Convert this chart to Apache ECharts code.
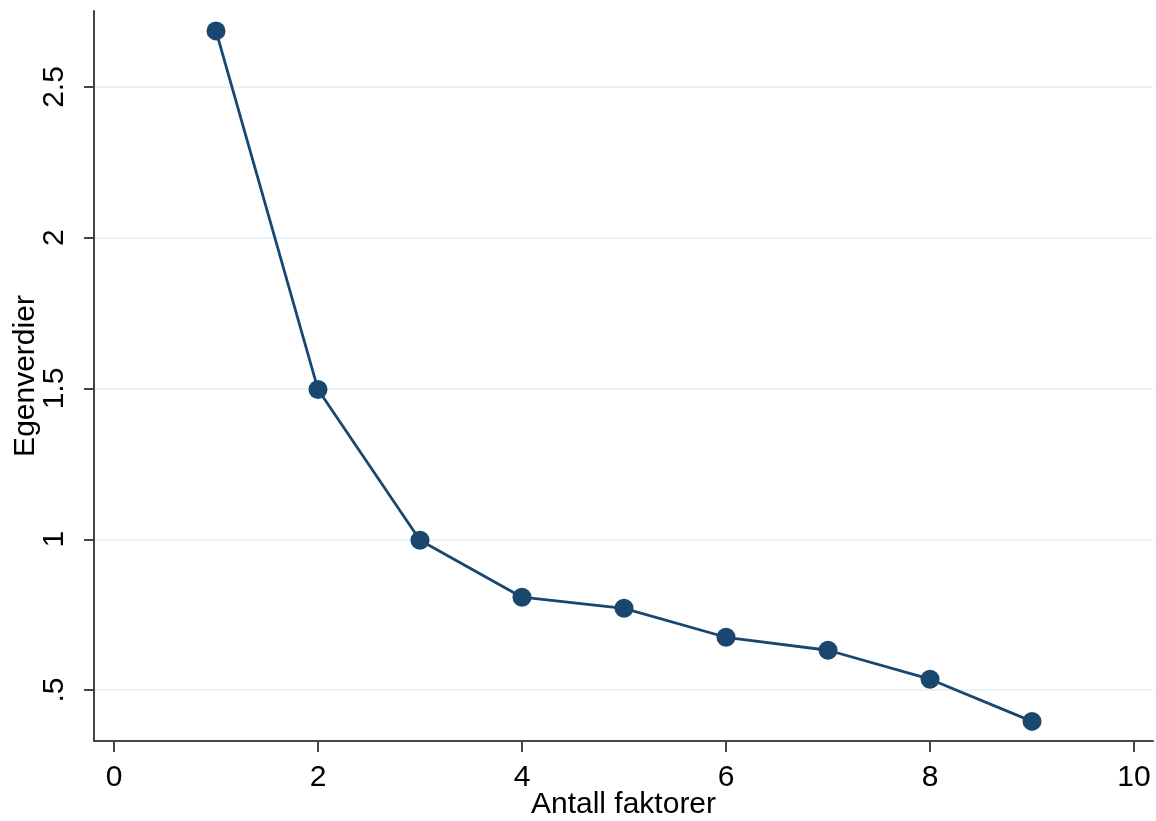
<!DOCTYPE html>
<html>
<head>
<meta charset="utf-8">
<script src="https://cdn.jsdelivr.net/npm/echarts@6/dist/echarts.min.js"></script>
<style>
  html, body { margin: 0; padding: 0; background: #fff; }
  #chart { width: 1156px; height: 821px; }
</style>
</head>
<body>
<div id="chart"></div>
<script>
// scree plot: eigenvalues per factor
const factors = [1, 2, 3, 4, 5, 6, 7, 8, 9];
const eigenvalues = [2.686, 1.497, 0.997, 0.808, 0.771, 0.675, 0.632, 0.536, 0.396];
const xTicks = [0, 2, 4, 6, 8, 10];
const yTicks = [0.5, 1, 1.5, 2, 2.5];

const font = "'Liberation Sans', Arial, sans-serif";
const axisColor = '#444444';

const chart = echarts.init(document.getElementById('chart'));
chart.setOption({
  backgroundColor: '#ffffff',
  animation: false,
  grid: { left: 94, right: 3, top: 11, bottom: 80, containLabel: false, outerBoundsMode: 'none' },
  xAxis: {
    type: 'value',
    min: -0.196,
    max: 10.186,
    name: 'Antall faktorer',
    nameLocation: 'middle',
    nameGap: 49,
    nameMoveOverlap: false,
    nameTextStyle: { fontFamily: font, fontSize: 30, color: '#000' },
    axisLine: { onZero: false, lineStyle: { color: axisColor, width: 2 } },
    axisTick: { customValues: xTicks, length: 11, lineStyle: { color: axisColor, width: 2 } },
    axisLabel: {
      customValues: xTicks,
      margin: 22,
      fontFamily: font, fontSize: 30, color: '#000',
    },
    splitLine: { show: false },
  },
  yAxis: {
    type: 'value',
    min: 0.331,
    max: 2.752,
    name: 'Egenverdier',
    nameLocation: 'middle',
    nameRotate: 90,
    nameGap: 53,
    nameMoveOverlap: false,
    nameTextStyle: { fontFamily: font, fontSize: 30, color: '#000' },
    axisLine: { show: true, onZero: false, lineStyle: { color: axisColor, width: 2 } },
    axisTick: { show: true, customValues: yTicks, length: 10, lineStyle: { color: axisColor, width: 2 } },
    axisLabel: {
      customValues: yTicks,
      rotate: 90,
      margin: 24,
      fontFamily: font, fontSize: 30, color: '#000',
      formatter: (v) => String(v).replace(/^0\./, '.'),
    },
    splitLine: { show: true, lineStyle: { color: '#eaf2f3', width: 2 } },
  },
  series: [{
    type: 'line',
    data: factors.map((f, i) => [f, eigenvalues[i]]),
    symbol: 'circle',
    symbolSize: 19,
    lineStyle: { color: '#1a476f', width: 2.8 },
    itemStyle: { color: '#1a476f' },
  }],
});
</script>
</body>
</html>
